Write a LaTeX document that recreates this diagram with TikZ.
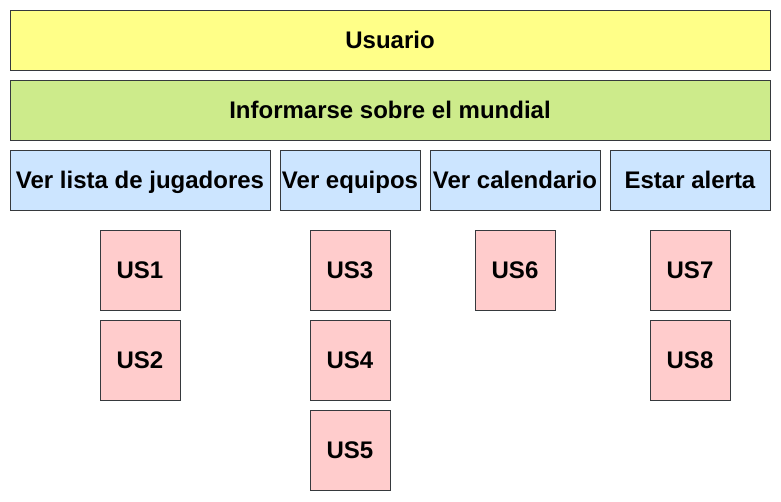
\documentclass[tikz,border=0pt]{standalone}
\usepackage{fontspec}
\setmainfont{Liberation Sans}
\definecolor{yel}{HTML}{FFFF88}
\definecolor{grn}{HTML}{CDEB8B}
\definecolor{blu}{HTML}{CCE5FF}
\definecolor{pnk}{HTML}{FFCCCC}
\definecolor{brd}{HTML}{36393D}
\tikzset{
  box/.style={draw=brd, line width=0.8pt, inner sep=0pt, text height=20pt, text depth=2.8pt,
    font=\fontsize{24}{28}\selectfont\bfseries},
  wide/.style={box, minimum width=760pt, minimum height=60pt},
  task/.style={box, fill=blu, minimum height=60pt},
  story/.style={box, fill=pnk, minimum width=80pt, minimum height=80pt},
}
\begin{document}
\begin{tikzpicture}[x=1pt,y=1pt]
\useasboundingbox (0,0) rectangle (781,-501);
\node[wide, fill=yel] (usr) at (390,-40) {Usuario};
\node[wide, fill=grn] (inf) at (390,-110) {Informarse sobre el mundial};
\node[task, minimum width=260pt] (vl) at (140,-180) {Ver lista de jugadores};
\node[task, minimum width=140pt] (ve) at (350,-180) {Ver equipos};
\node[task, minimum width=170pt] (vc) at (515,-180) {Ver calendario};
\node[task, minimum width=160pt] (ea) at (690,-180) {Estar alerta};
\node[story] (us1) at (140,-270) {US1};
\node[story] (us2) at (140,-360) {US2};
\node[story] (us3) at (350,-270) {US3};
\node[story] (us4) at (350,-360) {US4};
\node[story] (us5) at (350,-450) {US5};
\node[story] (us6) at (515,-270) {US6};
\node[story] (us7) at (690,-270) {US7};
\node[story] (us8) at (690,-360) {US8};
\end{tikzpicture}
\end{document}
